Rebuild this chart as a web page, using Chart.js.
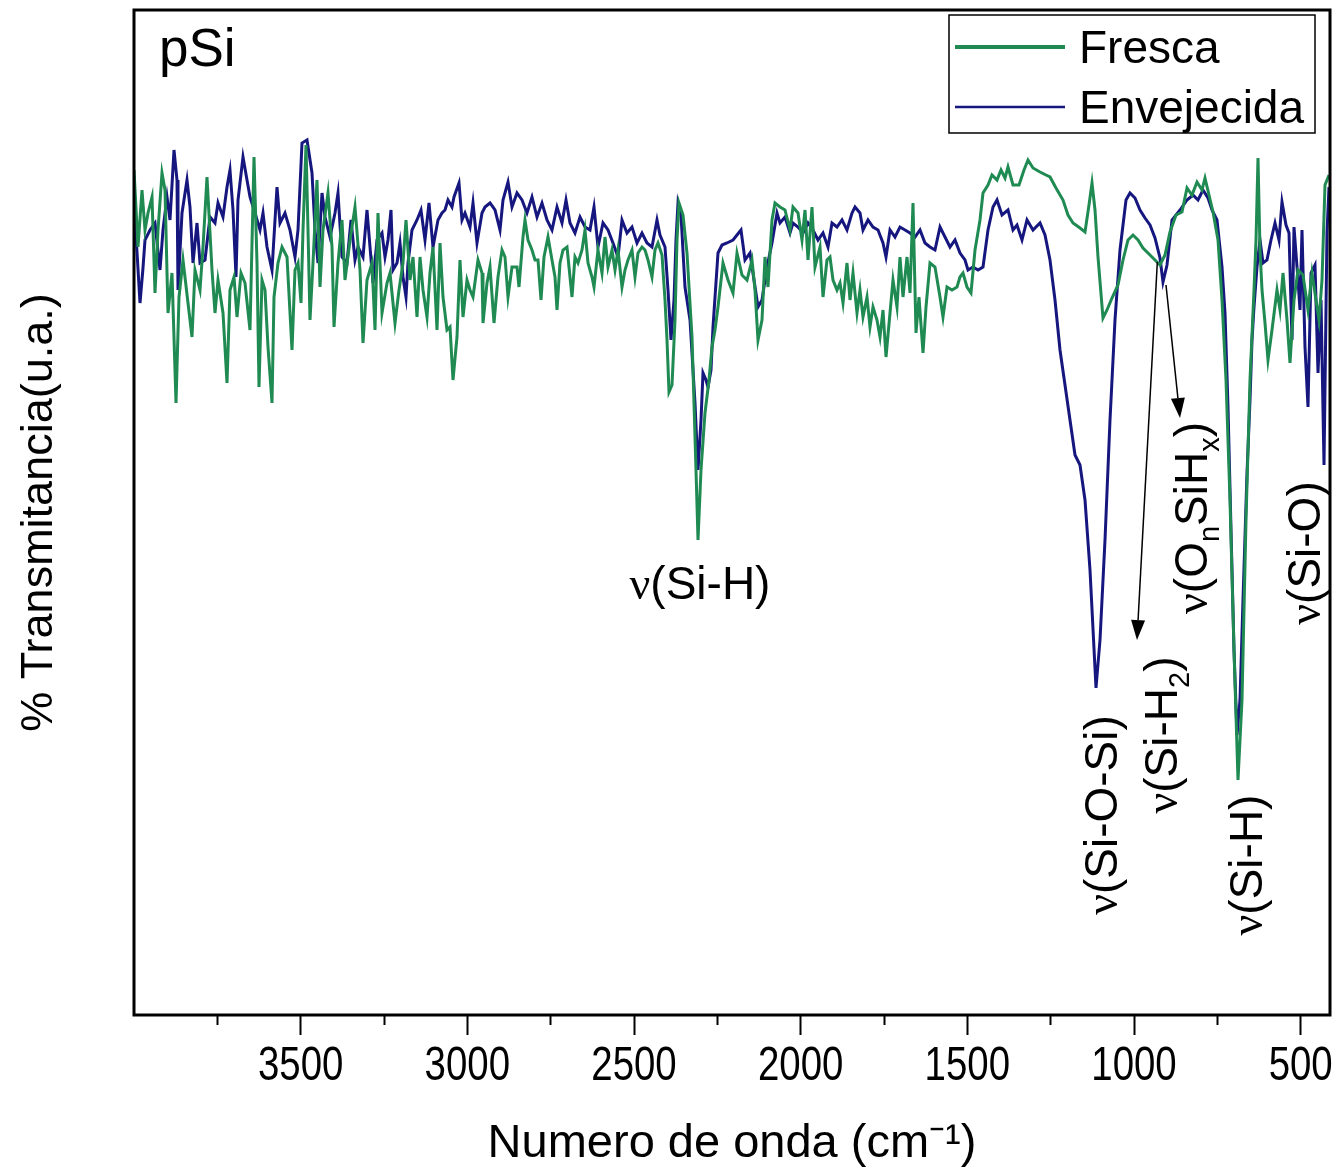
<!DOCTYPE html>
<html>
<head>
<meta charset="utf-8">
<script src="https://cdn.jsdelivr.net/npm/chart.js@4.4.1/dist/chart.umd.min.js"></script>
<style>
  html, body { margin: 0; padding: 0; background: #fff; }
</style>
</head>
<body>
<canvas id="spectrum" width="1340" height="1175"></canvas>
<script>
// FTIR spectra of porous silicon (pSi): fresh vs aged sample
// wavenumbers in cm-1, transmittance in arbitrary units

const frescaWn = [4000,3988,3976,3967,3958,3946,3937,3928,3916,3907,3898,3886,3874,3865,3853,3838,3826,3817,3802,3793,
  3781,3766,3757,3748,3733,3721,3712,3700,3691,3679,3667,3652,3640,3631,3625,3616,3607,3598,3586,3580,
  3568,3556,3541,3526,3517,3508,3499,3493,3484,
  3478,3472,3463,3451,3442,3433,3418,3406,3400,3388,3376,3367,3352,3337,3322,3313,3301,3286,3277,3268,
  3256,3241,3232,3217,3205,3193,3184,3172,3163,3151,3142,3133,3121,3112,3103,3091,3082,3073,3061,3052,
  3043,3031,3022,3013,3001,2992,2983,2968,2956,
  2953,2941,2932,2920,2908,2896,2887,2878,2866,2851,2845,2833,2827,2818,2806,2797,2788,2779,2770,2758,
  2746,2737,2731,2722,2713,2701,2695,2686,2677,2668,2656,2647,2638,2626,2620,2608,2596,2587,2578,2566,
  2557,2548,2536,2527,2518,2506,2497,2488,2476,2467,2458,2446,2437,2428,
  2416,2407,2401,2395,2386,2377,2371,2365,2353,2341,2326,2314,2308,2299,2287,2275,2266,2257,2248,2233,
  2218,2203,2191,2176,2161,2146,2137,2128,2116,2107,2098,2086,2077,2062,2047,2032,2023,2008,1996,1987,
  1978,1966,1957,1942,1933,1921,1912,1903,1891,1882,1873,1861,1852,1843,1831,1822,1813,1801,1792,1783,
  1771,1762,1753,1744,1732,1723,1711,1702,1693,1681,1672,1663,1654,1645,1633,1624,1612,1597,1582,1573,
  1561,1546,1531,1522,1513,1501,1489,1477,1462,1453,1438,1426,1411,1399,1387,1378,1363,1345,1330,1318,
  1303,1282,1264,1252,1234,1213,1198,1183,1162,1147,1135,1126,1117,1108,1093,1081,1066,1048,1033,1018,
  1003,988,973,952,937,922,907,892,874,856,841,826,811,796,787,775,763,748,736,724,
  712,700,688,676,664,652,640,634,628,622,616,607,598,586,571,562,553,541,532,520,
  508,493,478,466,454,445,436,427,415];
const frescaT = [84.5,76.8,82.5,78.5,80.2,81.8,72.2,78.5,84.2,82.5,70.2,74.2,61.2,71.8,75.5,71.2,67.8,74.5,72.5,76.8,
  83.8,74.5,70.2,73.5,70.2,63.2,72.5,73.8,69.8,74.2,73.2,68.5,85.8,75.2,62.8,73.5,72.5,66.8,61.2,71.8,
  75.2,76.8,75.8,66.5,74.5,75.2,71.2,78.5,87.0,
  78.5,69.5,75.2,83.5,72.8,78.5,82.2,76.8,68.8,75.2,79.5,73.5,77.5,80.8,74.5,67.2,73.5,75.2,68.5,80.2,
  70.2,73.2,74.2,69.2,72.5,75.2,79.5,73.5,75.8,69.8,75.8,72.5,69.8,74.2,76.8,68.5,77.2,71.8,68.5,68.8,
  63.5,67.8,75.5,69.8,73.5,72.5,71.8,75.5,74.2,
  69.2,73.2,74.8,69.2,73.8,76.5,75.8,71.8,74.8,74.8,72.8,77.8,79.5,77.5,76.5,75.5,75.5,71.5,75.8,77.8,
  75.5,73.8,70.5,75.2,76.5,76.8,74.8,71.8,75.8,75.2,76.5,78.5,75.2,73.8,72.8,76.5,74.2,77.8,74.8,76.5,
  74.5,76.5,72.8,74.5,75.5,76.5,73.8,76.2,76.8,76.5,75.5,73.8,76.5,77.2,
  76.0,71.5,67.5,62.3,63.0,69.5,77.5,81.2,80.0,76.2,67.8,54.5,47.5,54.5,60.2,63.5,66.8,68.5,70.8,75.2,
  73.5,72.2,76.2,74.0,73.5,75.5,72.5,67.5,69.5,75.8,72.8,79.5,81.2,80.8,80.5,78.5,80.8,80.2,77.5,80.5,
  75.5,80.8,74.8,76.8,71.8,75.5,75.8,73.5,72.5,73.2,71.2,75.2,71.5,74.2,70.2,72.5,69.8,71.8,68.8,70.8,
  69.5,67.8,70.5,65.8,70.2,73.5,70.8,75.8,71.8,75.8,72.2,81.2,68.2,71.8,66.2,70.8,75.2,74.8,71.8,69.8,
  72.8,72.5,72.8,73.8,74.2,72.8,72.2,76.5,79.5,82.2,83.0,84.0,83.5,84.5,83.7,84.8,83.0,83.0,84.5,85.5,
  84.7,84.3,84.0,83.8,82.7,81.5,80.0,79.2,78.7,78.3,81.0,83.2,80.5,75.8,69.7,70.5,71.7,73.0,75.5,77.5,
  78.0,77.5,76.7,76.0,75.5,75.0,76.0,78.3,80.0,80.3,82.7,82.0,83.3,82.5,83.7,82.0,80.3,77.5,71.5,63.5,
  51.5,36.5,23.5,31.5,49.5,63.5,72.5,77.5,85.7,76.5,72.5,69.2,65.5,68.5,72.5,70.5,74.2,69.5,65.2,71.5,
  74.5,74.0,70.5,74.2,71.5,69.5,73.5,83.0,84.0];

const envejecidaWn = [4000,3994,3982,3973,3967,3952,3937,3922,3913,3901,3892,3880,3871,3868,3856,3841,3832,3823,3811,3802,
  3787,3772,3757,3748,3733,3721,3712,3703,3694,3688,3673,3661,3652,3637,3622,3613,3601,3586,3571,3562,
  3547,3532,3517,3508,3496,3481,
  3466,3457,3448,3436,3427,3412,3397,3388,3376,3361,3349,3337,3328,3313,3301,3292,3283,3271,3256,3247,
  3238,3229,3223,3211,3202,3193,3184,3178,3166,3151,3139,3127,3115,3103,3088,3076,3067,3058,3046,3040,
  3025,3016,3007,2992,2983,2971,2956,
  2947,2932,2917,2902,2893,2878,2866,2851,2836,2821,2806,2791,2776,2761,2746,2731,2716,2704,2692,2677,
  2662,2647,2632,2620,2608,2593,2578,2563,2548,2536,2521,2506,2491,2476,2461,2446,2431,
  2422,2407,2398,2389,2380,2374,2368,2359,2347,2332,2317,2308,2299,2293,2284,2278,2269,2263,2248,2236,
  2221,2203,2191,2179,2167,2152,2140,2128,2116,2101,2086,2071,2062,2047,2032,2023,2008,1993,1978,1963,
  1948,1933,1918,1906,1891,1876,1861,1846,1837,1822,1813,1798,1783,1768,1753,1744,1732,1717,1702,1687,
  1672,1657,1642,1627,1612,1597,1582,1567,1552,1537,1522,1507,1498,1483,1468,1453,1438,1423,1411,1396,
  1378,1363,1351,1336,1321,1303,1282,1267,1252,1237,1222,1207,1192,1177,1162,1147,1132,1114,1102,1087,
  1072,1057,1042,1024,1012,997,982,967,952,937,922,913,901,886,862,841,823,808,793,778,
  766,751,736,727,718,709,700,691,682,673,661,652,646,640,631,622,613,601,589,577,
  565,556,544,535,526,520,508,502,496,487,478,469,457,448,439,430,421,415];
const envejecidaT = [80.5,78.0,71.2,74.7,77.5,78.5,79.2,74.5,78.5,81.8,79.5,86.5,83.5,72.5,80.2,83.5,80.8,75.2,79.2,75.2,
  75.5,79.8,79.2,81.2,79.8,82.8,84.5,80.5,73.8,81.5,85.8,83.5,81.8,80.2,78.5,80.2,76.8,74.5,82.8,79.2,
  80.2,78.5,75.8,78.5,87.2,87.5,
  84.2,78.5,75.2,82.2,79.8,77.8,80.2,82.2,75.8,75.2,79.5,75.5,76.8,75.8,80.5,76.8,73.2,77.5,78.2,75.8,
  77.5,80.5,74.5,75.2,77.2,73.8,71.8,75.2,78.5,79.5,80.5,77.5,81.2,76.8,79.5,80.2,80.5,81.5,80.8,81.8,
  83.2,79.5,80.2,78.8,81.2,77.2,80.2,
  80.8,81.2,80.5,78.5,81.5,83.3,80.8,82.2,81.5,80.2,81.8,79.8,81.2,79.5,78.5,80.8,79.2,81.5,79.2,78.2,
  79.8,78.8,78.5,80.8,76.8,79.2,78.5,77.2,75.8,79.5,78.2,78.8,77.2,78.2,77.2,76.8,79.5,
  78.0,76.8,72.5,67.5,71.5,77.5,81.2,80.0,72.8,69.5,61.2,54.5,59.5,64.2,63.5,62.8,64.5,68.8,76.2,77.0,
  77.2,77.5,78.0,78.5,75.5,76.2,73.5,70.8,71.5,74.8,77.2,80.2,79.2,79.8,78.2,79.2,78.8,78.2,79.2,78.5,
  77.5,78.2,76.8,79.2,78.8,79.5,78.5,80.2,80.8,80.2,78.5,79.5,78.8,78.5,77.2,75.8,78.5,77.8,78.8,78.5,
  78.2,77.8,78.5,77.2,76.8,76.5,78.8,77.8,76.8,77.5,76.2,75.5,74.5,74.8,74.5,74.8,78.5,80.8,81.5,80.0,
  80.5,78.5,79.0,77.5,79.5,78.5,79.2,78.0,75.5,71.5,66.5,63.0,59.5,56.0,55.0,51.5,44.5,32.7,37.5,47.5,
  59.5,69.5,76.5,81.5,82.2,81.7,80.5,79.7,79.0,77.7,75.7,73.3,75.0,79.5,80.5,81.5,82.0,81.5,82.5,81.7,
  80.5,79.5,74.8,70.2,60.8,48.5,36.5,28.0,31.5,41.5,54.2,61.5,67.5,70.8,74.8,77.5,75.2,75.5,77.5,79.2,
  77.5,81.3,79.0,78.2,67.5,78.8,73.5,70.5,78.5,66.8,60.8,74.2,75.0,64.2,71.5,55.0,78.3,82.8];

const seriesNames = ['Fresca', 'Envejecida'];
const seriesColors = ['#1f8a52', '#16167f'];

// axis ticks (cm-1)
const majorTicks = [3500, 3000, 2500, 2000, 1500, 1000, 500];
const minorTicks = [3750, 3250, 2750, 2250, 1750, 1250, 750];

// band assignments: position (wn, T) of the label centre
const bandLabels = [
  { wn: 2302, t: 43.3, vertical: false, parts: [['ν', 'nu'], ['(Si-H)', '']] },
  { wn: 1102, t: 20.0, vertical: true, parts: [['ν', 'nu'], ['(Si-O-Si)', '']] },
  { wn: 922, t: 28.0, vertical: true, parts: [['ν', 'nu'], ['(Si-H', ''], ['2', 'sub'], [')', '']] },
  { wn: 832, t: 49.7, vertical: true, parts: [['ν', 'nu'], ['(O', ''], ['n', 'sub'], ['SiH', ''], ['x', 'sub'], [')', '']] },
  { wn: 667, t: 15.0, vertical: true, parts: [['ν', 'nu'], ['(Si-H)', '']] },
  { wn: 493, t: 46.2, vertical: true, parts: [['ν', 'nu'], ['(Si-O)', '']] }
];
const bandArrows = [
  { from: [930, 75.3], to: [991, 37.5] },
  { from: [904, 73.0], to: [862, 59.7] }
];

const SANS = "'Liberation Sans', Arial, sans-serif";
const SERIF = "'Liberation Serif', 'Times New Roman', serif";

function toPoints(xs, ys) {
  return xs.map((x, i) => ({ x: x, y: ys[i] }));
}

function partFont(kind, size) {
  if (kind === 'nu') return size + 'px ' + SERIF;
  if (kind === 'sub' || kind === 'sup') return Math.round(size * 0.62) + 'px ' + SANS;
  return size + 'px ' + SANS;
}

function drawParts(ctx, parts, cx, cy, size) {
  let w = 0;
  parts.forEach(p => { ctx.font = partFont(p[1], size); w += ctx.measureText(p[0]).width; });
  let x = cx - w / 2;
  const base = cy + size * 0.36;
  parts.forEach(p => {
    ctx.font = partFont(p[1], size);
    const dy = p[1] === 'sub' ? size * 0.28 : (p[1] === 'sup' ? -size * 0.42 : 0);
    ctx.fillText(p[0], x, base + dy);
    x += ctx.measureText(p[0]).width;
  });
}

function drawArrow(ctx, x1, y1, x2, y2) {
  const ang = Math.atan2(y2 - y1, x2 - x1);
  const head = 20, half = 7;
  const bx = x2 - head * Math.cos(ang), by = y2 - head * Math.sin(ang);
  ctx.beginPath();
  ctx.moveTo(x1, y1);
  ctx.lineTo(bx, by);
  ctx.lineWidth = 1.5;
  ctx.stroke();
  ctx.beginPath();
  ctx.moveTo(x2, y2);
  ctx.lineTo(bx + half * Math.sin(ang), by - half * Math.cos(ang));
  ctx.lineTo(bx - half * Math.sin(ang), by + half * Math.cos(ang));
  ctx.closePath();
  ctx.fill();
}

const decorPlugin = {
  id: 'decor',
  afterDatasetsDraw(chart) {
    const { ctx, chartArea: a } = chart;
    ctx.save();
    ctx.strokeStyle = '#000';
    ctx.lineWidth = 3;
    ctx.strokeRect(a.left, a.top, a.right - a.left, a.bottom - a.top);
    ctx.restore();
  },
  afterDraw(chart) {
    const { ctx, chartArea: a, scales } = chart;
    const xs = scales.x, ys = scales.y;
    ctx.save();
    ctx.fillStyle = '#000';
    ctx.strokeStyle = '#000';
    ctx.textBaseline = 'alphabetic';

    // tick labels of the wavenumber axis, condensed like the original
    ctx.textAlign = 'center';
    ctx.font = '48px ' + SANS;
    xs.ticks.forEach(t => {
      ctx.save();
      ctx.translate(xs.getPixelForValue(t.value), a.bottom + 65);
      ctx.scale(0.8, 1);
      ctx.fillText(String(t.value), 0, 0);
      ctx.restore();
    });
    ctx.textAlign = 'left';

    // sample name
    ctx.font = '53px ' + SANS;
    ctx.fillText('pSi', a.left + 25, a.top + 56);

    // legend box
    const bw = 366, bh = 118;
    const bx = a.right - 15 - bw, by = a.top + 5;
    ctx.lineWidth = 1.5;
    ctx.strokeRect(bx, by, bw, bh);
    ctx.font = '46px ' + SANS;
    chart.data.datasets.forEach((ds, i) => {
      const ly = by + 32 + i * 60;
      ctx.beginPath();
      ctx.moveTo(bx + 6, ly);
      ctx.lineTo(bx + 116, ly);
      ctx.strokeStyle = ds.borderColor;
      ctx.lineWidth = i === 0 ? 4 : 2.5;
      ctx.stroke();
      ctx.fillText(ds.label, bx + 130, ly + 16);
    });

    // band labels
    ctx.strokeStyle = '#000';
    bandLabels.forEach(l => {
      const px = xs.getPixelForValue(l.wn), py = ys.getPixelForValue(l.t);
      ctx.save();
      ctx.translate(px, py);
      if (l.vertical) ctx.rotate(-Math.PI / 2);
      drawParts(ctx, l.parts, 0, 0, 46);
      ctx.restore();
    });

    // arrows
    bandArrows.forEach(ar => {
      drawArrow(ctx,
        xs.getPixelForValue(ar.from[0]), ys.getPixelForValue(ar.from[1]),
        xs.getPixelForValue(ar.to[0]), ys.getPixelForValue(ar.to[1]));
    });
    ctx.restore();
  }
};

const ctx = document.getElementById('spectrum').getContext('2d');
new Chart(ctx, {
  type: 'line',
  data: {
    datasets: [
      { label: seriesNames[0], data: toPoints(frescaWn, frescaT), borderColor: seriesColors[0],
        borderWidth: 3, pointRadius: 0, tension: 0, fill: false },
      { label: seriesNames[1], data: toPoints(envejecidaWn, envejecidaT), borderColor: seriesColors[1],
        borderWidth: 3, pointRadius: 0, tension: 0, fill: false }
    ]
  },
  options: {
    responsive: false,
    animation: false,
    layout: { padding: { top: 10, right: 10, left: 0, bottom: 0 } },
    plugins: { legend: { display: false }, tooltip: { enabled: false } },
    scales: {
      x: {
        type: 'linear', position: 'bottom', reverse: true, min: 412, max: 4000, weight: 1,
        afterBuildTicks: s => { s.ticks = majorTicks.map(v => ({ value: v })); },
        afterFit: s => { s.height = 160; s.paddingLeft = 0; s.paddingRight = 0; },
        ticks: { display: false, autoSkip: false, maxRotation: 0 },
        grid: { display: true, drawOnChartArea: false, drawTicks: true, tickLength: 20, tickWidth: 2, tickColor: '#000' },
        border: { display: false },
        title: {
          display: true, text: 'Numero de onda (cm⁻¹)', color: '#000',
          font: { family: SANS, size: 47 }, padding: { top: 0, bottom: 3 }
        }
      },
      xMinor: {
        type: 'linear', position: 'bottom', reverse: true, min: 412, max: 4000, weight: 0,
        afterBuildTicks: s => { s.ticks = minorTicks.map(v => ({ value: v })); },
        afterFit: s => { s.height = 0; s.paddingLeft = 0; s.paddingRight = 0; },
        ticks: { display: false, autoSkip: false, callback: () => '' },
        grid: { display: true, drawOnChartArea: false, drawTicks: true, tickLength: 10, tickWidth: 2, tickColor: '#000' },
        border: { display: false }
      },
      y: {
        min: 0, max: 100.5,
        afterFit: s => { s.width = 134; },
        ticks: { display: false },
        grid: { display: false, drawTicks: false },
        border: { display: false },
        title: {
          display: true, text: '% Transmitancia(u.a.)', color: '#000',
          font: { family: SANS, size: 45 }, padding: { top: 13, bottom: 0 }
        }
      }
    }
  },
  plugins: [decorPlugin]
});
</script>
</body>
</html>
